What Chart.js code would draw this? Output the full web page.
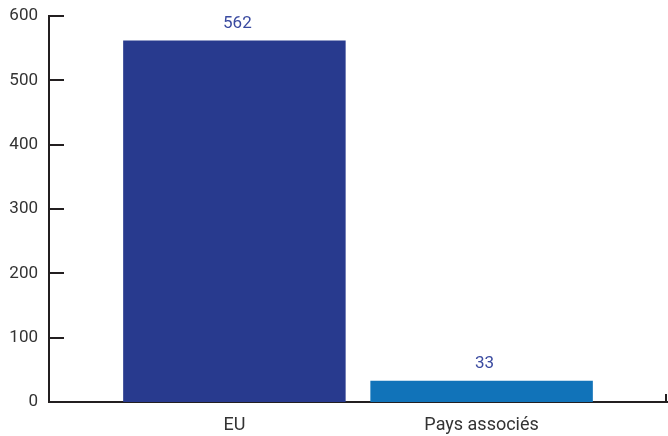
<!DOCTYPE html>
<html>
<head>
<meta charset="utf-8">
<script src="https://cdn.jsdelivr.net/npm/chart.js@4/dist/chart.umd.min.js"></script>
<style>
  html, body { margin: 0; padding: 0; background: #fff; }
  #wrap { width: 668px; height: 436px; }
</style>
</head>
<body>
<div id="wrap"><canvas id="chart" width="668" height="436"></canvas></div>
<script>
// ================= DATA =================
const categories = ["EU", "Pays associés"];
const values = [562, 33];
const barColors = ["#283a8e", "#1173b9"];
const yTicks = [0, 100, 200, 300, 400, 500, 600];

const FONT = "Roboto, 'DejaVu Sans', sans-serif";
const AXIS = "#231f20";

// ================= PLUGINS =================
// inward y ticks + small end tick on the x axis
const axisDecor = {
  id: "axisDecor",
  afterDraw(chart) {
    const ctx = chart.ctx;
    const y = chart.scales.y;
    const area = chart.chartArea;
    ctx.save();
    ctx.strokeStyle = AXIS;
    ctx.lineWidth = 2;
    ctx.beginPath();
    yTicks.forEach(v => {
      const py = Math.round(y.getPixelForValue(v));
      ctx.moveTo(area.left, py);
      ctx.lineTo(area.left + 15, py);
    });
    ctx.moveTo(area.right - 1, area.bottom);
    ctx.lineTo(area.right - 1, area.bottom - 8);
    ctx.stroke();
    ctx.restore();
  }
};

// value labels above bars
const valueLabels = {
  id: "valueLabels",
  afterDatasetsDraw(chart) {
    const ctx = chart.ctx;
    const meta = chart.getDatasetMeta(0);
    ctx.save();
    ctx.font = "17px " + FONT;
    ctx.fillStyle = "#3a4aa0";
    ctx.textAlign = "center";
    ctx.textBaseline = "middle";
    meta.data.forEach((bar, i) => {
      ctx.fillText(String(values[i]), bar.x + 3, bar.y - 17);
    });
    ctx.restore();
  }
};

// ================= CHART =================
new Chart(document.getElementById("chart"), {
  type: "bar",
  data: {
    datasets: [{
      data: values.map((v, i) => ({ x: i, y: v })),
      backgroundColor: barColors,
      borderWidth: 0,
      categoryPercentage: 1,
      barPercentage: 0.9
    }]
  },
  options: {
    responsive: false,
    animation: false,
    layout: { padding: { top: 16, right: 1, left: 0, bottom: 0 } },
    plugins: {
      legend: { display: false },
      tooltip: { enabled: false }
    },
    scales: {
      x: {
        type: "linear",
        offset: false,
        min: -0.75,
        max: 1.75,
        afterBuildTicks(scale) {
          scale.ticks = categories.map((c, i) => ({ value: i }));
        },
        afterFit(scale) { scale.height = 34; },
        grid: { display: false, drawTicks: false, offset: false },
        border: { display: true, color: AXIS, width: 2 },
        ticks: {
          padding: 13,
          maxRotation: 0,
          color: "#333",
          font: { family: FONT, size: 18 },
          callback: (v) => categories[v] ?? ""
        }
      },
      y: {
        min: 0,
        max: 600,
        afterBuildTicks(scale) {
          scale.ticks = yTicks.map(v => ({ value: v }));
        },
        afterFit(scale) {
          scale.width = 49;
          scale.paddingTop = 0;
          scale.paddingBottom = 0;
        },
        grid: { display: false, drawTicks: false },
        border: { display: true, color: AXIS, width: 2 },
        ticks: {
          padding: 11,
          color: "#333",
          font: { family: FONT, size: 17 }
        }
      }
    }
  },
  plugins: [axisDecor, valueLabels]
});
</script>
</body>
</html>
